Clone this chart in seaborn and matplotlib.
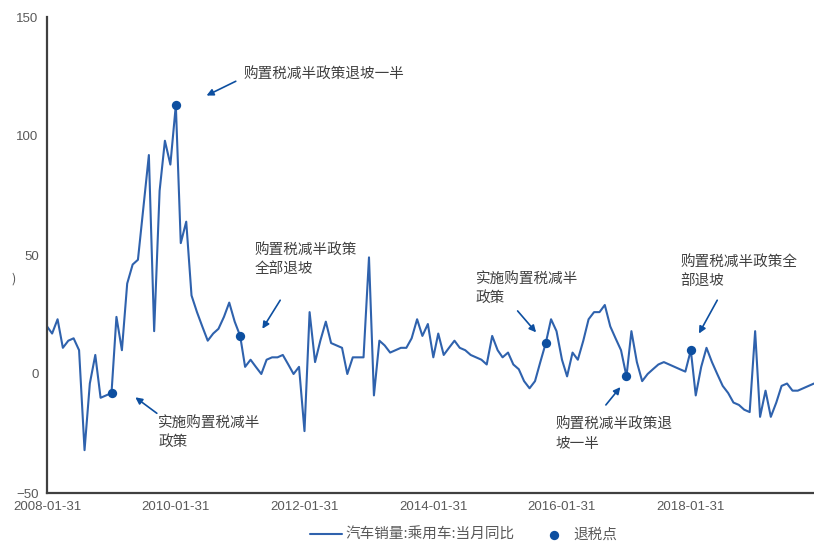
import numpy as np
import pandas as pd
import matplotlib
matplotlib.use("Agg")
import matplotlib.pyplot as plt
import matplotlib.dates as mdates
import seaborn as sns

# ---------------- data ----------------
start_month = "2008-01-31"
yoy = [
    20, 17, 23, 11, 14, 15, 10, -32, -4, 8, -10, -9,          # 2008
    -8, 24, 10, 38, 46, 48, 70, 92, 18, 77, 98, 88,           # 2009
    113, 55, 64, 33, 26, 20, 14, 17, 19, 24, 30, 22,          # 2010
    16, 3, 6, 3, 0, 6, 7, 7, 8, 4, 0, 3,                      # 2011
    -24, 26, 5, 14, 22, 13, 12, 11, 0, 7, 7, 7,               # 2012
    49, -9, 14, 12, 9, 10, 11, 11, 15, 23, 16, 21,            # 2013
    7, 17, 8, 11, 14, 11, 10, 8, 7, 6, 4, 16,                 # 2014
    10, 7, 9, 4, 2, -3, -6, -3, 5, 13, 23, 18,                # 2015
    6, -1, 9, 6, 14, 23, 26, 26, 29, 20, 15, 10,              # 2016
    -1, 18, 5, -3, 0, 2, 4, 5, 4, 3, 2, 1,                    # 2017
    10, -9, 3, 11, 5, 0, -5, -8, -12, -13, -15, -16,          # 2018
    18, -18, -7, -18, -12, -5, -4, -7, -7, -6, -5, -4,        # 2019
]
dates = pd.date_range(start_month, periods=len(yoy), freq="ME")

tax_idx = [12, 24, 36, 93, 108, 120]          # 退税点 positions (month index)
tax_dates = [dates[i] for i in tax_idx]
tax_vals = [yoy[i] for i in tax_idx]

tick_labels = ["2008-01-31", "2010-01-31", "2012-01-31",
               "2014-01-31", "2016-01-31", "2018-01-31"]
y_ticks = [-50, 0, 50, 100, 150]

line_label = "汽车销量:乘用车:当月同比"
dot_label = "退税点"
ylabel_fragment = ")"

notes = [
    # text, text pos (month idx, value top), arrow tail, arrow head
    ("购置税减半政策退坡一半", (36.6, 128.5), (35.2, 123), (29.8, 117)),
    ("购置税减半政策\n全部退坡", (38.8, 54.5), (43.5, 31), (40.2, 19)),
    ("实施购置税减半\n政策", (20.8, -17.5), (20.5, -16.5), (16.5, -9.8)),
    ("实施购置税减半\n政策", (79.9, 43), (87.8, 26.5), (91.2, 17.5)),
    ("购置税减半政策退\n坡一半", (94.8, -18.5), (104.2, -13), (106.9, -5.5)),
    ("购置税减半政策全\n部退坡", (118.1, 49.5), (125, 31), (121.6, 17)),
]

df = pd.DataFrame({"date": dates, "yoy": yoy})
dots = pd.DataFrame({"date": tax_dates, "yoy": tax_vals})

# ---------------- style ----------------
sns.set_theme(style="white")
plt.rcParams["font.family"] = ["Noto Sans CJK SC", "DejaVu Sans"]

line_color = "#2f62ad"
dot_color = "#0d4fa0"
grey = "#595959"

fig = plt.figure(figsize=(8.14, 5.43), dpi=100)
ax = fig.add_axes([47 / 814, 1 - 493 / 543, 1 - 47 / 814, (493 - 17) / 543])

sns.lineplot(data=df, x="date", y="yoy", ax=ax, color=line_color,
             linewidth=1.5, label=line_label)
sns.scatterplot(data=dots, x="date", y="yoy", ax=ax, color=dot_color,
                s=45, edgecolor=dot_color, linewidth=0, zorder=5, label=dot_label)

ax.set_xlim(dates[0], dates[-1])
ax.set_ylim(-50, 150)
ax.set_yticks(y_ticks)
ax.set_xticks(pd.to_datetime(tick_labels))
ax.xaxis.set_major_formatter(mdates.DateFormatter("%Y-%m-%d"))
ax.set_xlabel("")
ax.set_ylabel("")

for side in ["top", "right"]:
    ax.spines[side].set_visible(False)
for side in ["left", "bottom"]:
    ax.spines[side].set_color("#404040")
    ax.spines[side].set_linewidth(1.6)

ax.tick_params(axis="both", direction="in", length=4, width=1.2, color="#404040",
               labelcolor=grey, labelsize=9.5)
for lab in ax.get_xticklabels() + ax.get_yticklabels():
    lab.set_fontfamily(["Liberation Sans", "DejaVu Sans"])
ax.tick_params(axis="x", pad=6)
ax.tick_params(axis="y", pad=6)


def to_num(m):
    whole = int(np.floor(m))
    frac = m - whole
    return mdates.date2num(dates[whole]) + frac * 30.4


for text, tpos, tail, head in notes:
    ax.text(to_num(tpos[0]), tpos[1], text, fontsize=10.5, color="#404040",
            ha="left", va="top", linespacing=1.45)
    ax.annotate("", xy=(to_num(head[0]), head[1]), xytext=(to_num(tail[0]), tail[1]),
                arrowprops=dict(arrowstyle="-|>", color=dot_color, lw=1.2,
                                mutation_scale=10, shrinkA=0, shrinkB=0))

# y label fragment visible at the left edge
fig.text(14 / 814, 1 - 279 / 543, ylabel_fragment, ha="center", va="center",
         color=grey, fontsize=9)

leg = ax.legend(loc="upper center", bbox_to_anchor=(0.543, -0.045), ncol=2,
                frameon=False, fontsize=10.5, handlelength=2.2, columnspacing=1.6,
                handletextpad=0.25)
for t in leg.get_texts():
    t.set_color(grey)

fig.savefig("out.png", dpi=100)
